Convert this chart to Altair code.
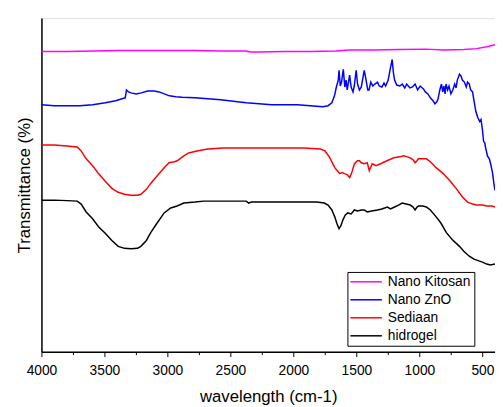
import altair as alt
import pandas as pd

series_names = ["Nano Kitosan", "Nano ZnO", "Sediaan", "hidrogel"]
series_colors = ["#FF00FF", "#0000FF", "#FF0000", "#000000"]

kitosan_x = [4000, 3797, 3594, 3391, 3188, 2984, 2781, 2578, 2375, 2345, 2273, 2070, 1867, 1664, 1563, 1359, 1156, 953, 801, 648, 547, 466, 400]
kitosan_y = [305, 305, 305.5, 306, 306, 306, 306, 305.5, 305.5, 304.5, 304.5, 305, 305, 305.5, 306.5, 306.5, 307, 307.5, 306.5, 307, 308, 310, 312]

zno_x = [4000, 3898, 3797, 3695, 3594, 3492, 3411, 3360, 3335, 3325, 3309, 3289, 3248, 3208, 3157, 3106, 3066, 3025, 2984, 2934, 2883, 2781, 2680, 2578, 2477, 2375, 2273, 2172, 2070, 1969, 1867, 1766, 1725, 1695, 1674, 1659, 1644, 1638, 1628, 1618, 1604, 1592, 1582, 1573, 1554, 1542, 1527, 1517, 1502, 1491, 1476, 1461, 1438, 1426, 1410, 1400, 1386, 1370, 1354, 1333, 1319, 1298, 1281, 1268, 1248, 1229, 1216, 1207, 1197, 1180, 1156, 1136, 1116, 1101, 1075, 1055, 1034, 1014, 994, 968, 953, 933, 913, 892, 877, 862, 852, 838, 825, 815, 806, 796, 789, 776, 765, 750, 735, 720, 709, 699, 682, 669, 659, 643, 628, 618, 604, 593, 578, 568, 552, 537, 521, 511, 500, 491, 481, 474, 460, 445, 435, 420, 409, 400]
zno_y = [251, 250, 250, 250, 251, 253, 255, 257, 258, 266, 264, 263, 262, 263, 265, 265, 264, 262, 260, 259, 258.5, 258, 257, 256, 254.5, 253, 252, 251, 251, 251, 250, 249, 250, 253, 260, 269, 276, 286, 270, 274, 287, 269, 276, 266, 281, 269, 264, 270, 286, 272, 266, 269, 286, 278, 266, 266, 274, 270, 272, 274, 270, 269, 273, 270, 276, 289, 297, 284, 276, 271, 270, 272, 268, 272, 268, 269, 272, 266, 270, 267, 264, 262, 258, 255, 252, 254, 257, 266, 272, 264, 270, 262, 272, 266, 270, 262, 266, 272, 268, 276, 282, 280, 276, 274, 269, 274, 272, 266, 264, 256, 244, 238, 234, 236, 226, 214, 212, 207, 199, 196, 191, 182, 171, 164]

sediaan_x = [4000, 3898, 3797, 3716, 3685, 3645, 3594, 3547, 3492, 3441, 3391, 3340, 3289, 3238, 3211, 3167, 3133, 3086, 3026, 2987, 2944, 2923, 2870, 2832, 2766, 2680, 2557, 2375, 2273, 2070, 1918, 1786, 1750, 1715, 1672, 1633, 1613, 1594, 1573, 1554, 1537, 1516, 1491, 1476, 1461, 1438, 1414, 1398, 1385, 1375, 1359, 1346, 1308, 1258, 1203, 1156, 1125, 1095, 1073, 1050, 1034, 1019, 1008, 973, 945, 913, 867, 811, 760, 709, 657, 618, 578, 547, 500, 466, 425, 400]
sediaan_y = [210, 210, 209, 208, 204, 196, 189, 181, 173, 166, 162, 160, 159, 159, 160, 165, 171, 178, 187, 192, 193, 194, 199, 202, 204, 206, 207, 207, 207, 207, 207, 206, 204, 198, 187, 181, 182, 181, 180, 177, 182, 191, 194, 194, 192, 191, 192, 184, 188, 191, 190, 189, 191, 194, 197, 198, 199, 198, 197, 195, 192, 194, 196, 196, 196, 193, 187, 181, 174, 166, 157, 152, 150, 149, 149, 148, 148, 147]

hidrogel_x = [4000, 3898, 3797, 3716, 3685, 3645, 3594, 3547, 3492, 3441, 3391, 3340, 3289, 3238, 3211, 3167, 3133, 3086, 3026, 2974, 2923, 2870, 2781, 2713, 2578, 2375, 2355, 2334, 2172, 1969, 1816, 1755, 1725, 1695, 1672, 1654, 1638, 1623, 1607, 1588, 1568, 1542, 1516, 1491, 1461, 1438, 1414, 1379, 1333, 1298, 1255, 1229, 1197, 1166, 1137, 1105, 1073, 1050, 1034, 1019, 1008, 973, 945, 913, 867, 831, 786, 740, 682, 648, 604, 567, 500, 466, 435, 400]
hidrogel_y = [154, 154, 153.5, 153, 150, 142, 135, 127, 120, 113, 107, 105, 104.5, 105, 107, 113, 121, 130, 141, 146, 148, 151, 152, 153, 153, 153, 151, 152, 152, 152, 152, 151, 149, 144, 137, 130, 125, 128, 134, 139, 141, 140, 144, 143, 144, 144, 142, 143, 144, 145, 147, 145, 147, 149, 151, 150, 149, 147, 144, 147, 148, 148, 147, 144, 137, 131, 121, 114, 107, 102, 97, 94, 91, 89, 88, 89]

x_ticks = [4000, 3750, 3500, 3250, 3000, 2750, 2500, 2250, 2000, 1750, 1500, 1250, 1000, 750, 500]

frames = []
for name, xs, ys in [
    (series_names[0], kitosan_x, kitosan_y),
    (series_names[1], zno_x, zno_y),
    (series_names[2], sediaan_x, sediaan_y),
    (series_names[3], hidrogel_x, hidrogel_y),
]:
    frames.append(pd.DataFrame({"wavenumber": xs, "T": ys, "series": name}))
df = pd.concat(frames, ignore_index=True)

FONT = "Liberation Sans"

chart = alt.Chart(df).mark_line(strokeWidth=1.5, clip=True).encode(
    x=alt.X(
        "wavenumber:Q",
        scale=alt.Scale(domain=[4000, 400], nice=False, zero=False),
        axis=alt.Axis(
            title="wavelength (cm-1)",
            values=x_ticks,
            labelExpr="datum.value % 500 === 0 ? datum.label : ''",
            tickSize={"condition": {"test": "datum.value % 500 === 0", "value": 5}, "value": 3},
            labelFlush=False,
            labelOverlap=False,
            grid=False,
            format="d",
            labelFontSize=14,
            labelPadding=7,
            titleFontSize=17,
            titlePadding=12,
            titleFontWeight="normal",
            domainColor="black",
            tickColor="black",
            labelColor="black",
            titleColor="black",
            domainWidth=1.5,
            tickWidth=1,
            labelFont=FONT,
            titleFont=FONT,
        ),
    ),
    y=alt.Y(
        "T:Q",
        scale=alt.Scale(domain=[0, 339], nice=False, zero=False),
        axis=alt.Axis(
            title="Transmittance (%)",
            ticks=False,
            labels=False,
            grid=False,
            titleFontSize=17,
            titlePadding=8,
            titleFontWeight="normal",
            titleColor="black",
            domainColor="black",
            domainWidth=1.5,
            titleFont=FONT,
        ),
    ),
    color=alt.Color(
        "series:N",
        scale=alt.Scale(domain=series_names, range=series_colors),
        legend=alt.Legend(
            title=None,
            orient="none",
            legendX=311,
            legendY=258,
            strokeColor="black",
            padding=3,
            symbolType="M-4,0H4",
            symbolSize=64,
            symbolStrokeWidth=1.5,
            symbolOffset=9,
            rowPadding=4.3,
            labelFontSize=14,
            labelFont=FONT,
            labelColor="black",
            labelOffset=15,
            labelLimit=300,
        ),
    ),
    detail="series:N",
).properties(
    width=461,
    height=339,
    padding={"left": 34, "top": 7, "right": 0, "bottom": 55},
    autosize=alt.AutoSizeParams(type="none"),
).configure_view(stroke=None).configure_legend(
    labelFontSize=14, labelFont=FONT
).configure(background="white")

chart.save("out.html", embed_options={"renderer": "svg", "actions": False})
